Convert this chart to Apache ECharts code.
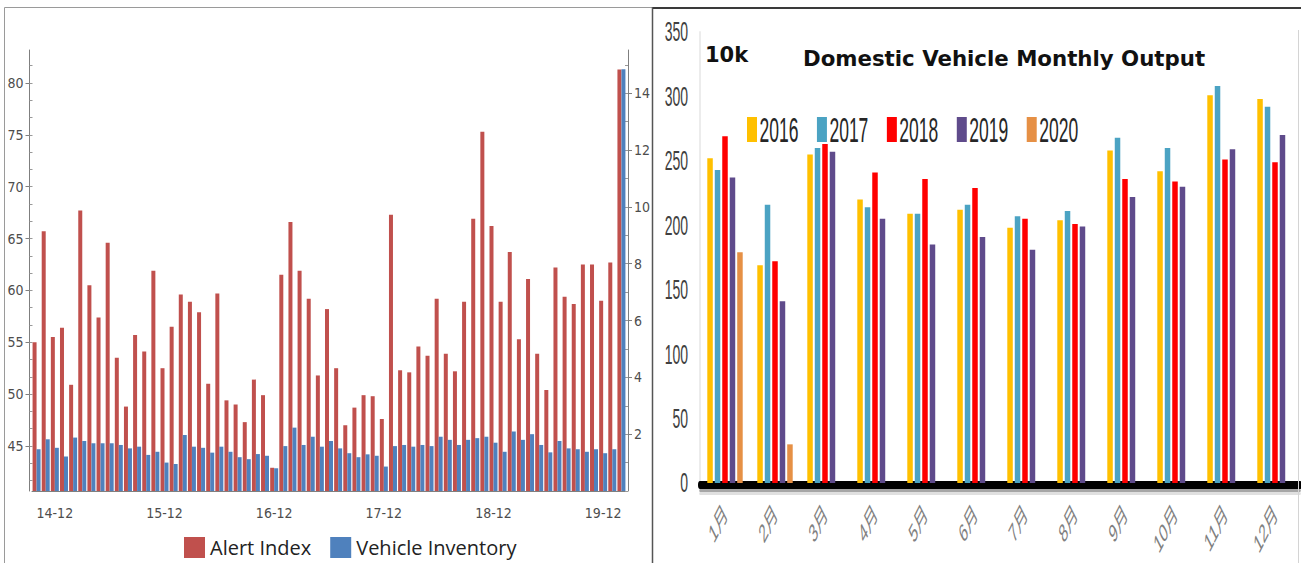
<!DOCTYPE html>
<html>
<head>
<meta charset="utf-8">
<script src="https://cdn.jsdelivr.net/npm/echarts@6/dist/echarts.min.js"></script>
<style>
  html, body { margin: 0; padding: 0; background: #fff; overflow: hidden; width: 1301px; height: 563px; }
  /* right-hand panel is laid out wide and squeezed horizontally */
  #output { position: absolute; left: 655px; top: 0; width: 1292px; height: 563px;
            transform: scaleX(0.5); transform-origin: 0 0; z-index: 1; }
  #main { position: absolute; left: 0; top: 0; width: 1301px; height: 563px; z-index: 2; }
</style>
</head>
<body>
<div id="output"></div>
<div id="main"></div>
<script>
// ---------- left panel: alert index vs. vehicle inventory ----------
const months = [
  '14-10','14-11','14-12',
  '15-01','15-02','15-03','15-04','15-05','15-06','15-07','15-08','15-09','15-10','15-11','15-12',
  '16-01','16-02','16-03','16-04','16-05','16-06','16-07','16-08','16-09','16-10','16-11','16-12',
  '17-01','17-02','17-03','17-04','17-05','17-06','17-07','17-08','17-09','17-10','17-11','17-12',
  '18-01','18-02','18-03','18-04','18-05','18-06','18-07','18-08','18-09','18-10','18-11','18-12',
  '19-01','19-02','19-03','19-04','19-05','19-06','19-07','19-08','19-09','19-10','19-11','19-12',
  '20-01','20-02'
];
const alertIndex = [
  55.0, 65.7, 55.5, 56.4, 50.9, 67.7, 60.5, 57.4, 64.6, 53.5,
  48.8, 55.7, 54.1, 61.9, 52.5, 56.5, 59.6, 58.9, 57.9, 51.0,
  59.7, 49.4, 49.0, 47.3, 51.4, 49.9, 42.9, 61.5, 66.6, 61.9,
  59.2, 51.8, 58.2, 52.5, 47.0, 48.7, 49.9, 49.8, 47.6, 67.3,
  52.3, 52.1, 54.6, 53.7, 59.2, 53.9, 52.2, 58.9, 66.9, 75.3,
  66.2, 58.9, 63.7, 55.3, 61.1, 53.9, 50.4, 62.2, 59.4, 58.7,
  62.5, 62.5, 59.0, 62.7, 81.3
];
const vehicleInventory = [
  1.47, 1.82, 1.52, 1.21, 1.88, 1.76, 1.68, 1.68, 1.68, 1.62,
  1.50, 1.56, 1.27, 1.38, 1.00, 0.95, 1.97, 1.56, 1.52, 1.35,
  1.56, 1.38, 1.19, 1.12, 1.30, 1.24, 0.80, 1.58, 2.23, 1.62,
  1.91, 1.56, 1.76, 1.50, 1.33, 1.19, 1.29, 1.24, 0.86, 1.58,
  1.62, 1.56, 1.62, 1.58, 1.91, 1.80, 1.62, 1.80, 1.86, 1.91,
  1.70, 1.38, 2.09, 1.80, 2.00, 1.62, 1.36, 1.76, 1.50, 1.47,
  1.38, 1.47, 1.33, 1.47, 14.84
];
const alertTicks = [45, 50, 55, 60, 65, 70, 75, 80];
const inventoryTicks = [2, 4, 6, 8, 10, 12, 14];
const alertRange = [40.66, 83.18];
const inventoryRange = [0, 15.52];

// ---------- right panel: domestic vehicle monthly output (10k units) ----------
const monthNames = ['1月','2月','3月','4月','5月','6月','7月','8月','9月','10月','11月','12月'];
const years = ['2016', '2017', '2018', '2019', '2020'];
const out2016 = [252, 169, 255, 220, 209, 212, 198, 204, 258, 242, 301, 298];
const out2017 = [243, 216, 260, 214, 209, 216, 207, 211, 268, 260, 308, 292];
const out2018 = [269, 172, 263, 241, 236, 229, 205, 201, 236, 234, 251, 249];
const out2019 = [237, 141, 257, 205, 185, 191, 181, 199, 222, 230, 259, 270];
const out2020 = [179, 30, null, null, null, null, null, null, null, null, null, null];
const outputTicks = [0, 50, 100, 150, 200, 250, 300, 350];
const yearColors = ['#FFC000', '#4BA3C3', '#FF0000', '#5F4B8B', '#E69045'];

const NARROW = "'Liberation Sans Narrow','DejaVu Sans Condensed','Liberation Sans',sans-serif";
const AXIS_GRAY = '#7f7f7f';

// minor tick positions between the labelled ticks
function subdivide(ticks, parts, range) {
  const step = (ticks[1] - ticks[0]) / parts;
  const res = [];
  for (let v = ticks[0] - step * Math.floor((ticks[0] - range[0]) / step); v <= range[1] + 1e-9; v += step) {
    res.push(+v.toFixed(4));
  }
  return res;
}

const mainChart = echarts.init(document.getElementById('main'), null, { renderer: 'svg' });
mainChart.setOption({
  animation: false,
  backgroundColor: 'transparent',
  title: [
    { text: '10k', left: 705, top: 44, padding: 0,
      textStyle: { fontFamily: 'DejaVu Sans', fontWeight: 'bold', fontSize: 21, color: '#111' } },
    { text: 'Domestic Vehicle Monthly Output', left: 803, top: 48, padding: 0,
      textStyle: { fontFamily: 'DejaVu Sans', fontWeight: 'bold', fontSize: 21.3, color: '#111' } }
  ],
  legend: {
    data: ['Alert Index', 'Vehicle Inventory'],
    left: 184, top: 537, padding: 0,
    icon: 'rect', itemWidth: 21, itemHeight: 21, itemGap: 19,
    textStyle: { fontFamily: "'Open Sans','Noto Sans',sans-serif", fontSize: 20, color: '#222' }
  },
  grid: { left: 32, top: 50, width: 594, height: 441 },
  xAxis: {
    type: 'category',
    data: months,
    axisLine: { lineStyle: { color: AXIS_GRAY } },
    axisTick: { alignWithLabel: true, interval: (i) => i % 3 === 2, length: 7, lineStyle: { color: AXIS_GRAY } },
    axisLabel: { interval: (i, v) => v.endsWith('-12'), margin: 15, fontFamily: NARROW, fontSize: 14, color: '#4d4d4d' }
  },
  yAxis: [
    { type: 'value', position: 'left', offset: 2.5, min: alertRange[0], max: alertRange[1],
      splitLine: { show: false },
      axisLine: { show: true, lineStyle: { color: AXIS_GRAY } },
      axisTick: { show: true, customValues: alertTicks, length: 4, lineStyle: { color: AXIS_GRAY } },
      axisLabel: { customValues: alertTicks, margin: 6, fontFamily: NARROW, fontSize: 14, color: '#4d4d4d' } },
    { type: 'value', position: 'right', offset: 2, min: inventoryRange[0], max: inventoryRange[1],
      splitLine: { show: false },
      axisLine: { show: true, lineStyle: { color: AXIS_GRAY } },
      axisTick: { show: true, customValues: inventoryTicks, length: 4, lineStyle: { color: AXIS_GRAY } },
      axisLabel: { customValues: inventoryTicks, margin: 6, fontFamily: NARROW, fontSize: 14, color: '#4d4d4d' } },
    { type: 'value', position: 'left', offset: 2.5, min: alertRange[0], max: alertRange[1],
      splitLine: { show: false }, axisLine: { show: false }, axisLabel: { show: false },
      axisTick: { show: true, inside: true, length: 3, customValues: subdivide(alertTicks, 3, alertRange),
                  lineStyle: { color: '#999' } } },
    { type: 'value', position: 'right', offset: 2, min: inventoryRange[0], max: inventoryRange[1],
      splitLine: { show: false }, axisLine: { show: false }, axisLabel: { show: false },
      axisTick: { show: true, inside: true, length: 3, customValues: subdivide(inventoryTicks, 2, inventoryRange),
                  lineStyle: { color: '#999' } } }
  ],
  series: [
    { name: 'Alert Index', type: 'bar', yAxisIndex: 0, data: alertIndex,
      barWidth: 4, barGap: '0%', itemStyle: { color: '#C0504D' } },
    { name: 'Vehicle Inventory', type: 'bar', yAxisIndex: 1, data: vehicleInventory,
      barWidth: 4, barGap: '0%', itemStyle: { color: '#4F81BD' } }
  ],
  graphic: [
    { type: 'polyline', silent: true, shape: { points: [[4.5, 563], [4.5, 7.5], [652.5, 7.5]] },
      style: { stroke: '#9a9a9a', lineWidth: 1, fill: null } },
    { type: 'line', silent: true, shape: { x1: 652.5, y1: 7, x2: 652.5, y2: 563 },
      style: { stroke: '#555', lineWidth: 1.5 } },
    { type: 'line', silent: true, shape: { x1: 653, y1: 8, x2: 1301, y2: 8 },
      style: { stroke: '#3a3a3a', lineWidth: 2 } },
    { type: 'line', silent: true, shape: { x1: 1298.5, y1: 30, x2: 1298.5, y2: 563 },
      style: { stroke: '#d4d4d4', lineWidth: 1 } }
  ]
});

const outChart = echarts.init(document.getElementById('output'), null, { renderer: 'svg' });
const outData = [out2016, out2017, out2018, out2019, out2020];
// soft shadow under the heavy base line, drawn as fading bands
const baseShadow = [
  { offset: 7.5, width: 3, color: 'rgba(0,0,0,0.35)' },
  { offset: 10, width: 3, color: 'rgba(0,0,0,0.12)' }
];
outChart.setOption({
  animation: false,
  color: yearColors,
  legend: {
    data: years,
    left: 184, top: 112, padding: 0,
    icon: 'rect', itemWidth: 20, itemHeight: 25, itemGap: 37,
    textStyle: { fontFamily: "'Liberation Sans',sans-serif", fontSize: 35, color: '#262626' }
  },
  grid: { left: 90, top: 32, width: 1200, height: 451 },
  xAxis: [
    {
      type: 'category',
      data: monthNames,
      offset: 2,
      axisLine: { onZero: false, lineStyle: { color: '#000', width: 8 } },
      axisTick: { show: false },
      axisLabel: { rotate: 45, margin: 24, fontSize: 26, color: '#808080',
                   fontFamily: "'Liberation Sans','Noto Sans CJK SC',sans-serif" }
    },
    ...baseShadow.map((s) => ({
      type: 'category', data: monthNames, position: 'bottom', offset: s.offset,
      axisLine: { onZero: false, lineStyle: { color: s.color, width: s.width } },
      axisTick: { show: false }, axisLabel: { show: false }, splitLine: { show: false }
    }))
  ],
  yAxis: {
    type: 'value', min: 0, max: 350, interval: 50,
    splitLine: { show: false },
    axisLine: { show: true, lineStyle: { color: '#d9d9d9', width: 2 } },
    axisTick: { show: false },
    axisLabel: { customValues: outputTicks, margin: 24, fontSize: 28, color: '#404040',
                 fontFamily: "'Liberation Sans',sans-serif" }
  },
  series: years.map((y, i) => ({
    name: y, type: 'bar', data: outData[i], xAxisIndex: 0,
    barWidth: 11, barGap: '36%'
  }))
});
</script>
</body>
</html>
